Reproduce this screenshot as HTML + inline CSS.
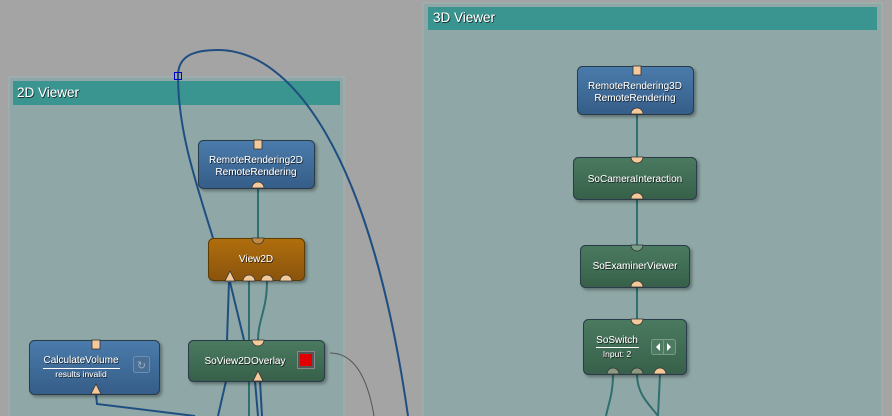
<!DOCTYPE html>
<html><head><meta charset="utf-8"><style>
html,body{margin:0;padding:0;background:#a4a4a4;}
svg{display:block;font-family:"Liberation Sans",sans-serif;}
</style></head><body>
<svg width="892" height="416" viewBox="0 0 892 416" xmlns="http://www.w3.org/2000/svg">
<defs>
<linearGradient id="gb" x1="0" y1="0" x2="0" y2="1"><stop offset="0" stop-color="#4a7bab"/><stop offset="1" stop-color="#355d88"/></linearGradient>
<linearGradient id="gg" x1="0" y1="0" x2="0" y2="1"><stop offset="0" stop-color="#4a7a60"/><stop offset="1" stop-color="#37604a"/></linearGradient>
<linearGradient id="go" x1="0" y1="0" x2="0" y2="1"><stop offset="0" stop-color="#b06e10"/><stop offset="1" stop-color="#8a5408"/></linearGradient>
<filter id="sh" x="-10%" y="-10%" width="130%" height="140%"><feDropShadow dx="2" dy="2" stdDeviation="1.5" flood-color="#000" flood-opacity="0.35"/></filter>
<filter id="ts" x="-5%" y="-20%" width="110%" height="150%"><feDropShadow dx="0.7" dy="0.7" stdDeviation="0.3" flood-color="#000" flood-opacity="0.9"/></filter>
</defs>
<rect width="892" height="416" fill="#a4a4a4"/>
<rect x="9" y="77" width="335" height="345" fill="#8fa8a7" stroke="#9fb3b2" stroke-width="1"/>
<rect x="13" y="81" width="327" height="24" fill="#3a9490"/>
<text x="17" y="97" font-size="13.5" fill="#fff" filter="url(#ts)">2D Viewer</text>
<rect x="423" y="3" width="459" height="420" fill="#8fa8a7" stroke="#9fb3b2" stroke-width="1"/>
<rect x="428" y="7" width="449" height="23" fill="#3a9490"/>
<text x="433" y="22" font-size="13.5" fill="#fff" filter="url(#ts)">3D Viewer</text>

<g fill="none" stroke-width="2">
<path d="M178,76 C178,55 195,50 218,50 C290,50 370,150 408,416" stroke="#1f4f80"/>
<path d="M178,76 C178,130 195,180 213,238" stroke="#1f4f80"/>
<line x1="258" y1="188" x2="258" y2="238" stroke="#2f6f70"/>
<path d="M229,282 L227,340" stroke="#1f4f80"/>
<path d="M230,282 L244,340" stroke="#1f4f80"/>
<path d="M226,381 L218,416" stroke="#1f4f80"/>
<line x1="249" y1="281" x2="249" y2="416" stroke="#2f6f70"/>
<path d="M267,281 C267,310 258,320 258,340" stroke="#2f6f70"/>
<path d="M255,381 L258,416" stroke="#1f4f80"/>
<path d="M260,381 L262,416" stroke="#1f4f80"/>
<path d="M96,394 L97,404 L195,416" stroke="#1f4f80"/>
<line x1="637" y1="114" x2="637" y2="157" stroke="#2f6f70"/>
<line x1="637" y1="199" x2="637" y2="245" stroke="#2f6f70"/>
<line x1="637" y1="287" x2="637" y2="319" stroke="#2f6f70"/>
<path d="M613,374 C613,395 608,405 606,416" stroke="#2f6f70"/>
<path d="M637,374 C637,395 650,405 658,416" stroke="#2f6f70"/>
<path d="M660,374 L658,416" stroke="#2f6f70"/>
</g>
<path d="M330,353 C355,353 368,380 374,416" fill="none" stroke="#555" stroke-width="1"/>
<rect x="174.5" y="72.5" width="7" height="7" fill="none" stroke="#0000cc" stroke-width="1"/>

<g filter="url(#sh)" stroke="#2a3a4a" stroke-width="1">
<rect x="198.5" y="140.5" width="116" height="48" rx="5" fill="url(#gb)"/>
<rect x="208.5" y="238.5" width="96" height="42" rx="5" fill="url(#go)" stroke="#5a3a05"/>
<rect x="29.5" y="340.5" width="130" height="54" rx="5" fill="url(#gb)"/>
<rect x="188.5" y="340.5" width="136" height="41" rx="5" fill="url(#gg)"/>
<rect x="577.5" y="66.5" width="116" height="48" rx="5" fill="url(#gb)"/>
<rect x="573.5" y="157.5" width="123" height="42" rx="5" fill="url(#gg)"/>
<rect x="580.5" y="245.5" width="109" height="42" rx="5" fill="url(#gg)"/>
<rect x="583.5" y="319.5" width="103" height="55" rx="5" fill="url(#gg)"/>
</g>

<g fill="#f5c99a" stroke="#333" stroke-width="0.8">
<rect x="254" y="140" width="8" height="9"/>
<path d="M252,188 a6,6 0 0 1 12,0 z"/>
<path d="M252,238 a6,6 0 0 0 12,0 z" fill="#c48a40"/>
<path d="M225,281 l5,-10 l5,10 z"/>
<path d="M243,281 a6,6 0 0 1 12,0 z"/>
<path d="M261,281 a6,6 0 0 1 12,0 z"/>
<path d="M280,281 a6,6 0 0 1 12,0 z"/>
<rect x="92" y="340" width="8" height="9"/>
<path d="M91,394 l5,-10 l5,10 z"/>
<path d="M252,340 a6,6 0 0 0 12,0 z"/>
<path d="M253,381 l5,-10 l5,10 z"/>
<rect x="633" y="66" width="8" height="9"/>
<path d="M631,114 a6,6 0 0 1 12,0 z"/>
<path d="M631,157 a6,6 0 0 0 12,0 z"/>
<path d="M631,199 a6,6 0 0 1 12,0 z"/>
<path d="M631,245 a6,6 0 0 0 12,0 z" fill="#7aa08a"/>
<path d="M631,287 a6,6 0 0 1 12,0 z"/>
<path d="M631,319 a6,6 0 0 0 12,0 z"/>
<path d="M607,374 a6,6 0 0 1 12,0 z" fill="#8a9a80"/>
<path d="M631,374 a6,6 0 0 1 12,0 z" fill="#8a9a80"/>
<path d="M654,374 a6,6 0 0 1 12,0 z"/>
</g>

<rect x="297.5" y="351.5" width="17" height="17" fill="#555" stroke="#888"/>
<rect x="300" y="354" width="12" height="12" fill="#e00000"/>
<rect x="133.5" y="356.5" width="16" height="16" rx="2" fill="#4a6f96" stroke="#6b8fb3"/>
<text x="141.5" y="369" font-size="11" fill="#9ab" text-anchor="middle">↻</text>
<rect x="651.5" y="339.5" width="24" height="15" rx="2" fill="#4e7a62" stroke="#7a9a88"/>
<line x1="663.5" y1="340" x2="663.5" y2="354" stroke="#7a9a88"/>
<path d="M660,343 l-4,4 l4,4 z M667,343 l4,4 l-4,4 z" fill="#fff"/>

<g font-size="10" fill="#fff" text-anchor="middle" filter="url(#ts)">
<text x="256" y="163">RemoteRendering2D</text>
<text x="256" y="175">RemoteRendering</text>
<text x="256" y="262">View2D</text>
<text x="81" y="363">CalculateVolume</text>
<text x="245" y="364">SoView2DOverlay</text>
<text x="635" y="89">RemoteRendering3D</text>
<text x="635" y="101">RemoteRendering</text>
<text x="635" y="182">SoCameraInteraction</text>
<text x="635" y="269">SoExaminerViewer</text>
<text x="617" y="343">SoSwitch</text>
<text x="81" y="377" font-size="8.5">results invalid</text>
<text x="617" y="357" font-size="8.5">Input: 2</text>
</g>
<line x1="43" y1="368.5" x2="120" y2="368.5" stroke="#fff" stroke-width="1"/>
<line x1="596" y1="347.5" x2="639" y2="347.5" stroke="#fff" stroke-width="1"/>
</svg>
</body></html>
